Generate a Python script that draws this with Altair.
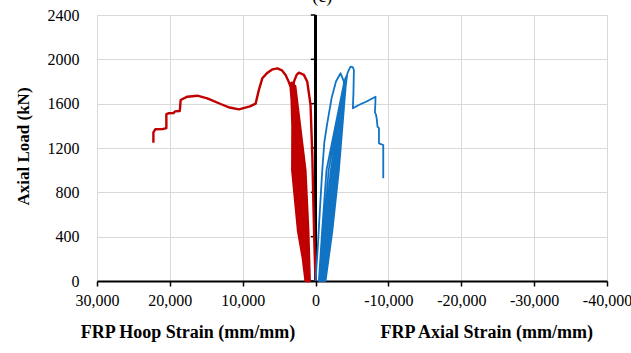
import altair as alt
import pandas as pd

# ---- data ----
hoop_strain = [0, 150, 300, 450, 690, 1140, 1600, 2290, 2600, 2900, 3000,
               3150, 2300, 800,
               1000, 1400, 2800,
               2600, 1700, 900,
               1150, 1650, 2950,
               2900, 2100, 1000,
               1300, 1900, 3050,
               2400, 1600, 1100,
               1400, 2100, 3150,
               3200, 2400, 1200,
               1500, 2300, 3250,
               2700, 1900, 1300,
               1600, 2000, 3350,
               3000, 2200, 1370,
               1700, 2500, 3430,
               3700, 4115, 4600, 5250, 5900, 6600, 7310, 7800, 8230, 9000,
               10520, 11800, 13030, 14860, 16230, 17600, 18520, 18600, 18650,
               19300, 19500, 20200, 20480, 20480, 21000, 22000, 22260, 22260]
hoop_load = [0, 300, 700, 1137, 1588, 1798, 1860, 1880, 1860, 1810, 1790,
             1000, 450, 0,
             450, 1000, 1760,
             1000, 450, 0,
             450, 1000, 1770,
             1000, 450, 0,
             450, 1000, 1775,
             1000, 450, 0,
             450, 1000, 1785,
             1000, 450, 0,
             450, 1000, 1790,
             1000, 450, 0,
             450, 1000, 1785,
             1000, 450, 0,
             450, 1000, 1753,
             1800, 1859, 1900, 1919, 1910, 1880, 1829, 1720, 1600, 1575,
             1549, 1565, 1597, 1648, 1672, 1663, 1633, 1560, 1534,
             1530, 1515, 1513, 1505, 1380, 1370, 1369, 1340, 1248]

axial_strain = [0, -300, -600, -920, -1200, -1600, -2200, -2800, -3430, -3700, -3890,
                -3200, -2200, -450,
                -900, -1500, -3950,
                -2700, -1700, -600,
                -1100, -1800, -4000,
                -3000, -2000, -750,
                -1250, -2100, -4050,
                -2500, -1600, -900,
                -1400, -2300, -4100,
                -3100, -2100, -1050,
                -1550, -2500, -4150,
                -2800, -1900, -1200,
                -1700, -2200, -4250,
                -3200, -2300, -1370,
                -1850, -2700, -4350,
                -4600, -4800, -5100, -5260, -5200, -5120, -6000, -7000, -8230,
                -8200, -8150, -8300, -8400, -8500, -8700, -8700, -9290, -9290]
axial_load = [0, 300, 650, 1000, 1250, 1423, 1650, 1800, 1874, 1830, 1798,
              1000, 450, 0,
              450, 1000, 1800,
              1000, 450, 0,
              450, 1000, 1810,
              1000, 450, 0,
              450, 1000, 1820,
              1000, 450, 0,
              450, 1000, 1830,
              1000, 450, 0,
              450, 1000, 1840,
              1000, 450, 0,
              450, 1000, 1850,
              1000, 450, 0,
              450, 1000, 1870,
              1910, 1934, 1930, 1904, 1700, 1558, 1590, 1620, 1663,
              1600, 1522, 1500, 1460, 1392, 1380, 1242, 1227, 927]

x_ticks = [30000, 20000, 10000, 0, -10000, -20000, -30000, -40000]
y_ticks = [0, 400, 800, 1200, 1600, 2000, 2400]
bottom_labels = ["FRP Hoop Strain (mm/mm)", "FRP Axial Strain (mm/mm)"]
bottom_label_x = [17500, -23500]
title_text = "(c)"

FONT = "Liberation Serif, Times New Roman, Tinos, DejaVu Serif, serif"

hoop = pd.DataFrame({"strain": hoop_strain, "load": hoop_load,
                     "i": range(len(hoop_strain))})
axial = pd.DataFrame({"strain": axial_strain, "load": axial_load,
                      "i": range(len(axial_strain))})

xscale = alt.Scale(domain=[-40000, 30000], reverse=True, nice=False)
yscale = alt.Scale(domain=[0, 2400], nice=False)

xaxis = alt.Axis(values=x_ticks, title=None, grid=True, gridColor="#d9d9d9",
                 domainColor="black", domainWidth=2, tickColor="black",
                 tickSize=5, tickWidth=1.5, labelFont=FONT, labelFontSize=16,
                 labelColor="black", labelPadding=6, labelOverlap=False,
                 labelFlush=False, labelBound=False,
                 labelExpr="datum.value < 0 ? '-' + format(-datum.value, ',') : format(datum.value, ',')")
yaxis = alt.Axis(values=y_ticks, title="Axial Load (kN)", grid=True,
                 gridColor="#d9d9d9", domain=False, ticks=False, format="d",
                 labelOverlap=False, labelFlush=False,
                 labelFont=FONT, labelFontSize=16, labelColor="black",
                 labelPadding=18, titleFont=FONT, titleFontSize=17,
                 titleFontWeight="bold", titleColor="black",
                 titleX=-74, titleY=131, titleBaseline="middle")

base_axes = alt.Chart(pd.DataFrame({"y": y_ticks})).mark_rule(
    color="black", strokeWidth=2
).encode(
    x=alt.datum(0, scale=xscale, axis=xaxis, type="quantitative"),
    y=alt.value(0), y2=alt.value(266)
)

ytick_marks = alt.Chart(pd.DataFrame({"y": y_ticks})).mark_rule(
    color="black", strokeWidth=1.5
).encode(
    x=alt.datum(0, type="quantitative"),
    x2=alt.datum(650),
    y=alt.Y("y:Q", scale=yscale, axis=yaxis),
)

hoop_line = alt.Chart(hoop).mark_line(color="#C00000", strokeWidth=2.4,
                                      strokeJoin="round").encode(
    x=alt.X("strain:Q"), y=alt.Y("load:Q"), order="i:Q")

axial_line = alt.Chart(axial).mark_line(color="#1173C4", strokeWidth=1.8,
                                        strokeJoin="round").encode(
    x=alt.X("strain:Q"), y=alt.Y("load:Q"), order="i:Q")

labels = alt.Chart(pd.DataFrame({"t": bottom_labels, "x": bottom_label_x})).mark_text(
    font=FONT, fontSize=18, fontWeight="bold", color="black", baseline="middle"
).encode(x="x:Q", y=alt.value(318), text="t:N")

title = alt.Chart(pd.DataFrame({"t": [title_text], "x": [-900]})).mark_text(
    font=FONT, fontSize=18, color="black", baseline="alphabetic"
).encode(x="x:Q", y=alt.value(-13), text="t:N")

chart = alt.layer(base_axes, ytick_marks, hoop_line, axial_line, labels, title).properties(
    width=510, height=266,
    autosize=alt.AutoSizeParams(type="none"),
    padding={"left": 97, "top": 15, "right": 24, "bottom": 72},
).configure_view(stroke="#bfbfbf", strokeWidth=1).configure(background="white")

chart.save("out.html", embed_options={"renderer": "svg", "actions": False})
